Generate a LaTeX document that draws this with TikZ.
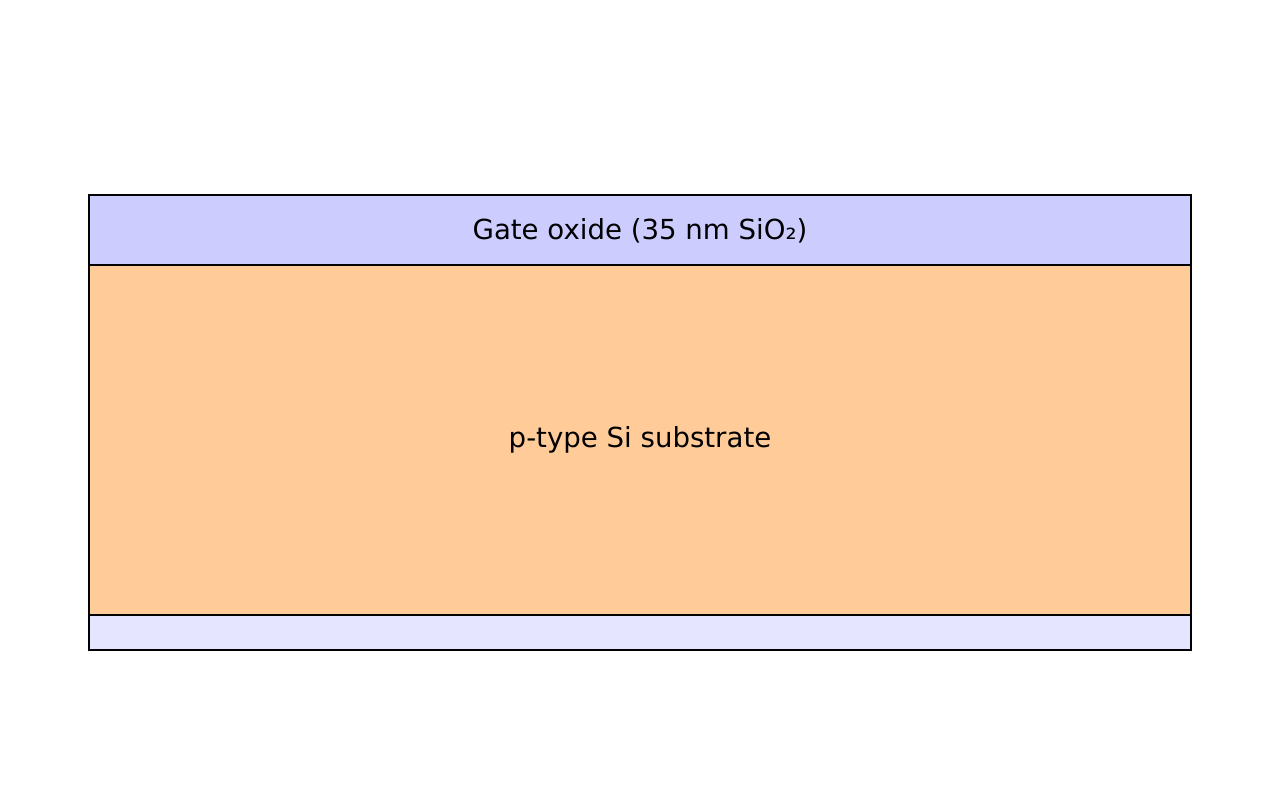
\documentclass[tikz,border=0pt]{standalone}
\usepackage{fontspec}
\setmainfont{DejaVu Sans}
\usepackage{xcolor}
\definecolor{oxidecol}{HTML}{CCCCFF}
\definecolor{substratecol}{HTML}{FFCC99}
\definecolor{backcol}{HTML}{E5E5FF}
\begin{document}
\begin{tikzpicture}[x=0.01cm,y=-0.01cm,
        layer/.style={draw=black,line width=0.8pt},
        lbl/.style={font=\fontsize{7.85}{9}\selectfont,inner sep=0pt}]
        \useasboundingbox (0,0) rectangle (1280,810);
        % layers, top to bottom
        \draw[layer,fill=backcol] (89,615) rectangle (1191,650);
        \draw[layer,fill=substratecol] (89,265) rectangle (1191,615);
        \draw[layer,fill=oxidecol] (89,195) rectangle (1191,265);

        \node[lbl] (oxide) at (640,231) {Gate oxide (35 nm SiO₂)};
        \node[lbl] (substrate) at (640,440) {p-type Si substrate};
    \end{tikzpicture}
\end{document}
